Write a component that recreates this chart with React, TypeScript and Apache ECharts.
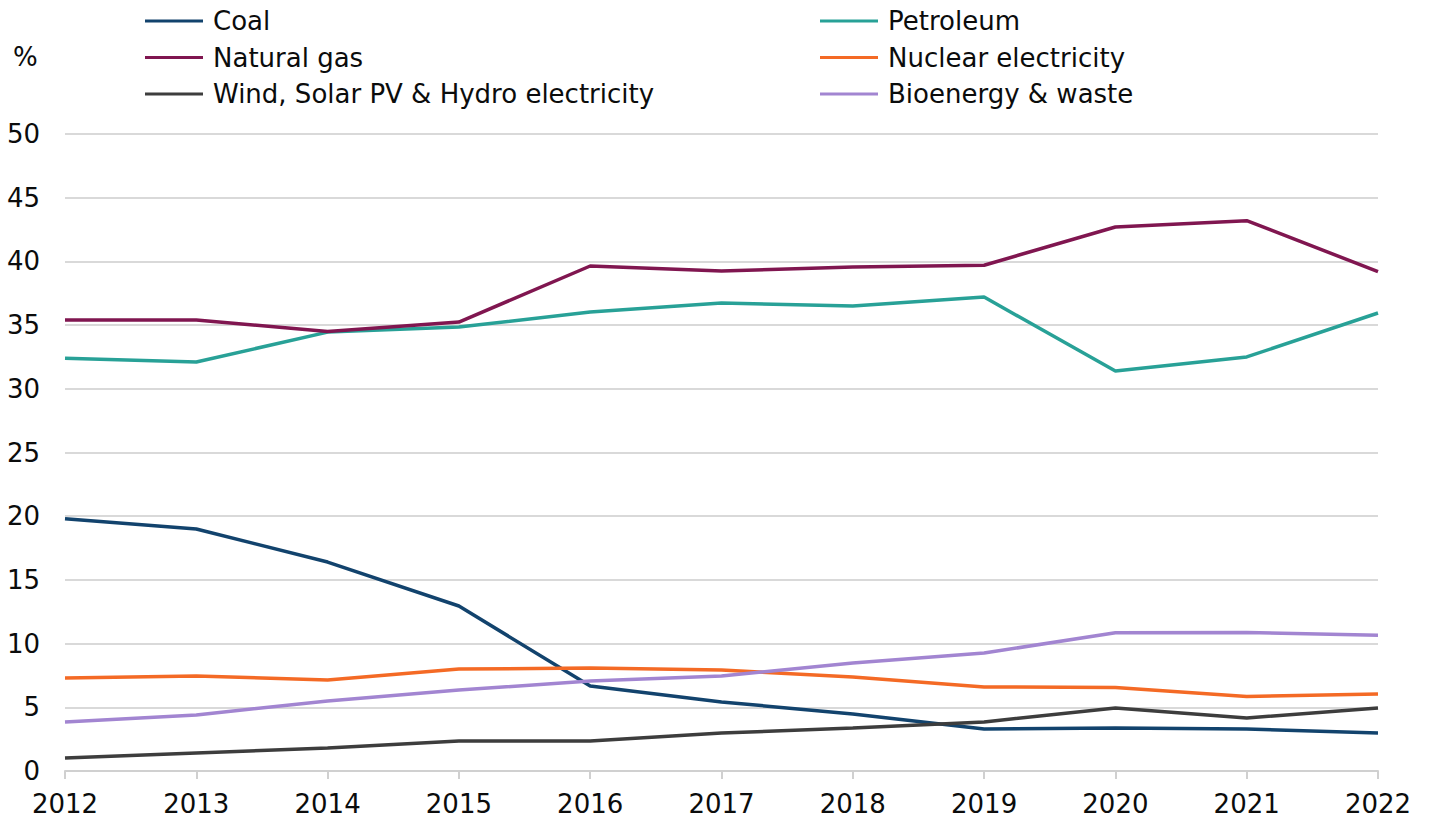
import React, { useEffect, useRef } from "react";
import * as echarts from "echarts";

const years = ["2012", "2013", "2014", "2015", "2016", "2017", "2018", "2019", "2020", "2021", "2022"];
const coal = [19.8, 19.0, 16.4, 12.95, 6.67, 5.42, 4.47, 3.3, 3.37, 3.3, 2.98];
const petroleum = [32.4, 32.1, 34.45, 34.85, 36.03, 36.73, 36.5, 37.2, 31.4, 32.5, 35.95];
const naturalGas = [35.4, 35.4, 34.5, 35.24, 39.64, 39.25, 39.56, 39.7, 42.7, 43.2, 39.2];
const nuclear = [7.3, 7.46, 7.14, 8.0, 8.08, 7.93, 7.38, 6.6, 6.55, 5.85, 6.04];
const renewables = [1.02, 1.41, 1.8, 2.35, 2.35, 2.98, 3.37, 3.85, 4.95, 4.16, 4.95];
const bioenergy = [3.85, 4.4, 5.5, 6.36, 7.06, 7.46, 8.48, 9.26, 10.85, 10.87, 10.65];
const yTicks = { min: 0, max: 50, interval: 5 };

const seriesDefs = [
  { name: "Coal", data: coal, color: "#12436D" },
  { name: "Petroleum", data: petroleum, color: "#28A197" },
  { name: "Natural gas", data: naturalGas, color: "#801650" },
  { name: "Nuclear electricity", data: nuclear, color: "#F46A25" },
  { name: "Wind, Solar PV & Hydro electricity", data: renewables, color: "#3D3D3D" },
  { name: "Bioenergy & waste", data: bioenergy, color: "#A285D1" },
];

const FONT = "DejaVu Sans, Verdana, sans-serif";
const FS = 26;

export default function App() {
  const ref = useRef<HTMLDivElement>(null);
  useEffect(() => {
    document.body.style.margin = "0";
    const chart = echarts.init(ref.current!, null, { renderer: "svg" });
    const legendCommon = {
      orient: "vertical" as const,
      top: 7,
      padding: 0,
      itemWidth: 58,
      itemHeight: 3,
      itemGap: 8.5,
      icon: "rect",
      selectedMode: false,
      textStyle: { fontSize: FS, fontFamily: FONT, color: "#0b0c0c", lineHeight: 28, padding: [0, 0, 0, 5] },
    };
    chart.setOption({
      animation: false,
      backgroundColor: "#ffffff",
      legend: [
        { ...legendCommon, left: 145, data: ["Coal", "Natural gas", "Wind, Solar PV & Hydro electricity"] },
        { ...legendCommon, left: 820, data: ["Petroleum", "Nuclear electricity", "Bioenergy & waste"] },
      ],
      graphic: [
        {
          type: "text",
          left: 13,
          top: 44,
          style: { text: "%", fontSize: FS, fontFamily: FONT, fill: "#0b0c0c" },
        },
      ],
      grid: { left: 65, right: 51, top: 134, bottom: 52, containLabel: false },
      xAxis: {
        type: "category",
        data: years,
        boundaryGap: false,
        axisLine: { lineStyle: { color: "#d0d0d0", width: 2 } },
        axisTick: { show: true, length: 8, lineStyle: { color: "#d0d0d0", width: 2 }, alignWithLabel: true },
        axisLabel: { fontSize: FS, fontFamily: FONT, color: "#0b0c0c", margin: 20 },
        splitLine: { show: false },
      },
      yAxis: {
        type: "value",
        min: yTicks.min,
        max: yTicks.max,
        interval: yTicks.interval,
        axisLine: { show: false },
        axisTick: { show: false },
        axisLabel: { fontSize: FS, fontFamily: FONT, color: "#0b0c0c", margin: 25 },
        splitLine: { lineStyle: { color: "#d9d9d9", width: 2 } },
      },
      series: seriesDefs.map((s) => ({
        name: s.name,
        type: "line",
        data: s.data,
        symbol: "none",
        color: s.color,
        lineStyle: { color: s.color, width: 3.5 },
        itemStyle: { color: s.color },
      })),
    });
    return () => chart.dispose();
  }, []);
  return <div ref={ref} style={{ width: 1429, height: 823 }} />;
}
